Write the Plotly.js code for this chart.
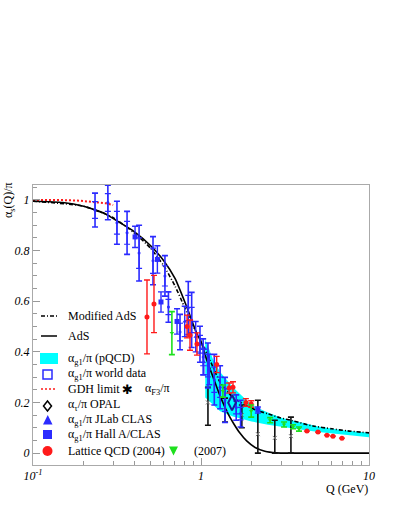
<!DOCTYPE html>
<html>
<head>
<meta charset="utf-8">
<script src="https://cdn.plot.ly/plotly-3.0.1.min.js"></script>
<style>
  body { margin: 0; background: #fff; }
  #chart { width: 403px; height: 522px; }
</style>
</head>
<body>
<div id="chart"></div>
<script>
// Curves
const adsQ   = [0.1, 0.15, 0.2, 0.27, 0.32, 0.4, 0.5, 0.6, 0.7, 0.82, 0.94, 1.0, 1.08, 1.18, 1.3, 1.45, 1.56, 1.7, 1.87, 2.1, 2.4, 2.8, 3.5, 10];
const adsVal = [0.995, 0.99, 0.975, 0.945, 0.915, 0.875, 0.82, 0.76, 0.69, 0.58, 0.475, 0.44, 0.37, 0.30, 0.225, 0.155, 0.118, 0.08, 0.048, 0.022, 0.007, 0.001, 0, 0];

const modQ   = [0.1, 0.2, 0.3, 0.4, 0.5, 0.6, 0.7, 0.8, 0.9, 1.0, 1.1, 1.3, 1.55, 2.04, 2.5, 2.95, 3.5, 4.64, 6, 7.4, 10];
const modVal = [0.995, 0.975, 0.93, 0.87, 0.81, 0.74, 0.66, 0.575, 0.5, 0.44, 0.385, 0.28, 0.22, 0.175, 0.155, 0.14, 0.128, 0.107, 0.096, 0.088, 0.08];

const gdhQ   = [0.1, 0.145, 0.19, 0.23, 0.27, 0.3];
const gdhVal = [1.0, 1.0, 0.997, 0.993, 0.987, 0.98];

// pQCD band
const bandQ  = [1.06, 1.18, 1.3, 1.55, 2.0, 2.5, 3.0, 4.0, 5.0, 7.0, 10];
const bandHi = [0.45, 0.37, 0.32, 0.26, 0.19, 0.16, 0.14, 0.12, 0.105, 0.09, 0.08];
const bandLo = [0.22, 0.19, 0.165, 0.145, 0.125, 0.112, 0.104, 0.092, 0.083, 0.072, 0.063];

// alpha_g1 world data
const worldQ    = [0.234, 0.279, 0.316, 0.363, 0.428, 0.518, 0.61, 0.64, 0.75, 0.84, 0.88, 0.986, 1.03, 1.10, 1.20, 1.30, 1.39, 1.62, 1.72];
const worldVal  = [0.96, 0.99, 0.91, 0.87, 0.79, 0.76, 0.70, 0.577, 0.478, 0.573, 0.526, 0.43, 0.38, 0.346, 0.29, 0.26, 0.21, 0.18, 0.156];
const worldErr  = [0.067, 0.068, 0.085, 0.085, 0.11, 0.095, 0.08, 0.06, 0.07, 0.105, 0.109, 0.071, 0.071, 0.089, 0.1, 0.085, 0.089, 0.05, 0.053];
const worldStat = [0.033, 0.035, 0.045, 0.045, 0.06, 0.05, 0.04, 0.03, 0.035, 0.05, 0.05, 0.035, 0.035, 0.045, 0.05, 0.04, 0.045, 0.025, 0.025];

// Hall A / CLAS
const hallQ   = [0.405, 0.55, 0.578, 0.72, 2.18];
const hallVal = [0.854, 0.765, 0.597, 0.52, 0.17];
const hallErr = [0.042, 0.054, 0.04, 0.05, 0.012];

// JLab CLAS
const clasQ   = [0.80, 0.93, 1.04, 1.12];
const clasVal = [0.52, 0.46, 0.36, 0.33];
const clasErr = [0.06, 0.06, 0.05, 0.06];

// Lattice QCD 2004
const lat04Q   = [0.477, 0.525, 0.826, 0.86, 0.946, 1.24, 1.47, 1.55, 1.85, 1.99, 4.27, 4.97, 5.62, 6.1, 6.9];
const lat04Val = [0.538, 0.589, 0.50, 0.466, 0.431, 0.35, 0.257, 0.26, 0.20, 0.194, 0.087, 0.083, 0.071, 0.067, 0.059];
const lat04Err = [0.146, 0.113, 0.045, 0.06, 0.044, 0.032, 0.02, 0.022, 0.015, 0.013, 0, 0, 0, 0, 0];

// Lattice QCD 2007
const lat07Q   = [0.671, 1.35, 1.99, 2.58, 3.12, 3.53, 3.83];
const lat07Val = [0.474, 0.245, 0.166, 0.13, 0.113, 0.104, 0.095];
const lat07Err = [0.085, 0.024, 0.024, 0.01, 0.01, 0.008, 0.008];

// alpha_F3
const f3Q     = [1.10, 1.39, 1.75, 2.18, 2.75, 3.43];
const f3Val   = [0.20, 0.17, 0.15, 0.075, 0.06, 0.067];
const f3Plus  = [0.06, 0.047, 0.04, 0.134, 0.07, 0.075];
const f3Minus = [0.09, 0.047, 0.05, 0.075, 0.06, 0.067];

// OPAL alpha_tau
const opalQ   = [1.53];
const opalVal = [0.199];

const xTickVals  = [0.1, 1, 10];
const xTickText  = ['10<sup>-1</sup>', '1', '10'];
const xMinorVals = [0.2, 0.3, 0.4, 0.5, 0.6, 0.7, 0.8, 0.9, 2, 3, 4, 5, 6, 7, 8, 9];

const blue = '#2b2bff', red = '#ff1a1a', green = '#1ee01e';

const traces = [
    { x: bandQ.concat(bandQ.slice().reverse()), y: bandHi.concat(bandLo.slice().reverse()),
      fill: 'toself', fillcolor: '#00ffff', line: { width: 0 }, mode: 'lines', hoverinfo: 'skip' },
    { x: gdhQ, y: gdhVal, mode: 'lines', line: { color: red, width: 2, dash: '2px,2px' } },
    { x: modQ, y: modVal, mode: 'lines', line: { color: 'black', width: 1.6, dash: '4px,2px,1px,2px', shape: 'spline', smoothing: 0.6 } },
    { x: adsQ, y: adsVal, mode: 'lines', line: { color: 'black', width: 1.6, shape: 'spline', smoothing: 0.5 } },
    { x: f3Q, y: f3Val, mode: 'markers', marker: { symbol: 'x-thin-open', size: 4, color: '#777', line: { width: 1, color: '#777' } },
      error_y: { type: 'data', array: f3Plus, arrayminus: f3Minus, color: '#111', thickness: 1.6, width: 3 } },
    { x: worldQ, y: worldVal, mode: 'markers', marker: { size: 3, color: blue },
      error_y: { type: 'data', array: worldErr, color: blue, thickness: 1.6, width: 3 } },
    { x: worldQ, y: worldVal, mode: 'markers', marker: { size: 1, opacity: 0 },
      error_y: { type: 'data', array: worldStat, color: blue, thickness: 1.2, width: 3 } },
    { x: clasQ, y: clasVal, mode: 'markers', marker: { symbol: 'triangle-up', size: 4, color: blue },
      error_y: { type: 'data', array: clasErr, color: blue, thickness: 1.4, width: 3 } },
    { x: hallQ, y: hallVal, mode: 'markers', marker: { symbol: 'square', size: 5, color: blue },
      error_y: { type: 'data', array: hallErr, color: blue, thickness: 1.4, width: 3 } },
    { x: lat04Q, y: lat04Val, mode: 'markers', marker: { size: 5, color: red },
      error_y: { type: 'data', array: lat04Err, color: red, thickness: 1.4, width: 3 } },
    { x: lat07Q, y: lat07Val, mode: 'markers', marker: { symbol: 'triangle-down', size: 4, color: green },
      error_y: { type: 'data', array: lat07Err, color: green, thickness: 1.6, width: 3 } },
    { x: opalQ, y: opalVal, mode: 'markers', marker: { symbol: 'diamond-tall-open', size: 11, color: '#1a1a99', line: { width: 2, color: '#1a1a99' } } }
];

// legend drawn by hand (pixel -> paper)
const L = 33, W = 336, B = 465, H = 280;
const px = v => (v - L) / W;
const py = v => (B - v) / H;

const shapes = [
    { type: 'line', xref: 'paper', yref: 'paper', x0: px(41), x1: px(57), y0: py(316), y1: py(316), line: { color: 'black', width: 1.5, dash: '4px,2px,1px,2px' } },
    { type: 'line', xref: 'paper', yref: 'paper', x0: px(41), x1: px(57), y0: py(336), y1: py(336), line: { color: 'black', width: 1.5 } },
    { type: 'rect', xref: 'paper', yref: 'paper', x0: px(40), x1: px(58), y0: py(364), y1: py(353), fillcolor: '#00ffff', line: { width: 0 } },
    { type: 'rect', xref: 'paper', yref: 'paper', x0: px(43), x1: px(52), y0: py(379), y1: py(370), line: { color: blue, width: 1.5 } },
    { type: 'line', xref: 'paper', yref: 'paper', x0: px(41), x1: px(57), y0: py(389), y1: py(389), line: { color: red, width: 1.5, dash: '2px,2px' } },
    { type: 'path', xref: 'paper', yref: 'paper', path: `M ${px(47.5)} ${py(401)} L ${px(51.5)} ${py(406)} L ${px(47.5)} ${py(411)} L ${px(43.5)} ${py(406)} Z`, line: { color: 'black', width: 1.5 } },
    { type: 'path', xref: 'paper', yref: 'paper', path: `M ${px(43)} ${py(424.5)} L ${px(52.5)} ${py(424.5)} L ${px(47.75)} ${py(415)} Z`, fillcolor: blue, line: { width: 0 } },
    { type: 'rect', xref: 'paper', yref: 'paper', x0: px(43), x1: px(52), y0: py(439), y1: py(430), fillcolor: blue, line: { width: 0 } },
    { type: 'circle', xref: 'paper', yref: 'paper', x0: px(42.5), x1: px(52.5), y0: py(456), y1: py(446), fillcolor: red, line: { width: 0 } },
    { type: 'path', xref: 'paper', yref: 'paper', path: `M ${px(169)} ${py(446.5)} L ${px(178)} ${py(446.5)} L ${px(173.5)} ${py(455.5)} Z`, fillcolor: green, line: { width: 0 } }
];

const txtFont = { family: 'Liberation Serif, Times New Roman, serif', size: 12, color: 'black' };
const legendText = [
    [66, 316, 'Modified AdS'],
    [66, 336, 'AdS'],
    [66, 359, '\u03b1<sub>g1</sub>/\u03c0 (pQCD)'],
    [66, 374, '\u03b1<sub>g1</sub>/\u03c0 world data'],
    [66, 389, 'GDH limit'],
    [143, 389, '\u03b1<sub>F3</sub>/\u03c0'],
    [66, 405, '\u03b1<sub>\u03c4</sub>/\u03c0 OPAL'],
    [66, 420, '\u03b1<sub>g1</sub>/\u03c0 JLab CLAS'],
    [66, 435, '\u03b1<sub>g1</sub>/\u03c0 Hall A/CLAS'],
    [66, 451, 'Lattice QCD (2004)'],
    [192, 451, '(2007)']
];
const annotations = legendText.map(t => ({
    xref: 'paper', yref: 'paper', x: px(t[0]), y: py(t[1]), xanchor: 'left', yanchor: 'middle',
    text: t[2], showarrow: false, font: txtFont
}));
annotations.push({ xref: 'paper', yref: 'paper', x: px(127), y: py(389), xanchor: 'center', yanchor: 'middle',
    text: '\u2731', showarrow: false, font: { family: 'DejaVu Sans', size: 13, color: 'black' } });
annotations.push({ xref: 'paper', yref: 'paper', x: px(9), y: py(200), xanchor: 'center', yanchor: 'middle',
    textangle: -90, text: '\u03b1<sub>s</sub>(Q)/\u03c0', showarrow: false, font: txtFont });
annotations.push({ xref: 'paper', yref: 'paper', x: px(370), y: py(489), xanchor: 'right', yanchor: 'middle',
    text: 'Q (GeV)', showarrow: false, font: txtFont });

const tickFont = { family: 'Liberation Serif, Times New Roman, serif', size: 12, color: 'black', style: 'italic' };

const layout = {
    width: 403, height: 522,
    margin: { l: 33, r: 34, t: 185, b: 57 },
    paper_bgcolor: 'white', plot_bgcolor: 'white',
    showlegend: false,
    xaxis: {
        type: 'log', range: [-1, 1], showgrid: false, zeroline: false,
        showline: true, mirror: true, linecolor: '#aaaaaa', linewidth: 1,
        ticks: 'inside', ticklen: 7, tickcolor: '#999999',
        tickmode: 'array', tickvals: xTickVals, ticktext: xTickText, tickfont: tickFont,
        minor: { tickmode: 'array', tickvals: xMinorVals, ticks: 'inside', ticklen: 4, tickcolor: '#999999', showgrid: false }
    },
    yaxis: {
        range: [-0.047, 1.059], showgrid: false, zeroline: false,
        showline: true, mirror: true, linecolor: '#aaaaaa', linewidth: 1,
        ticks: 'inside', ticklen: 7, tickcolor: '#999999',
        tick0: 0, dtick: 0.2, tickfont: tickFont,
        minor: { dtick: 0.05, ticks: 'inside', ticklen: 4, tickcolor: '#999999', showgrid: false }
    },
    shapes: shapes,
    annotations: annotations
};

Plotly.newPlot('chart', traces, layout, { displayModeBar: false, staticPlot: true });
</script>
</body>
</html>
